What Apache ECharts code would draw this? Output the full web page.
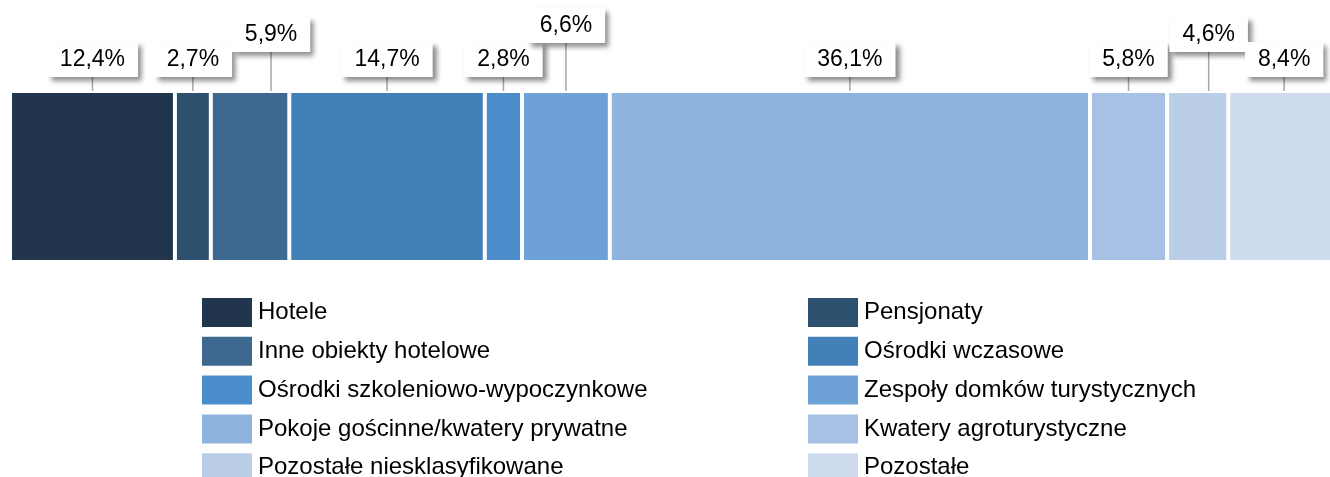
<!DOCTYPE html>
<html>
<head>
<meta charset="utf-8">
<script src="https://cdn.jsdelivr.net/npm/echarts@6/dist/echarts.min.js"></script>
<style>
  html, body { margin: 0; padding: 0; background: #fff; }
  #chart { width: 1330px; height: 477px; }
</style>
</head>
<body>
<div id="chart"></div>
<script>
const categories = [
  "Hotele",
  "Pensjonaty",
  "Inne obiekty hotelowe",
  "Ośrodki wczasowe",
  "Ośrodki szkoleniowo-wypoczynkowe",
  "Zespoły domków turystycznych",
  "Pokoje gościnne/kwatery prywatne",
  "Kwatery agroturystyczne",
  "Pozostałe niesklasyfikowane",
  "Pozostałe"
];
const shares = [12.4, 2.7, 5.9, 14.7, 2.8, 6.6, 36.1, 5.8, 4.6, 8.4];

const colors = [
  "#21364d", "#2e506f", "#3d688f", "#4280b7", "#4b8dca",
  "#6ea1d6", "#8eb3dd", "#a7c1e4", "#bbcee8", "#cfdbee"
];

// labels that sit higher / off-centre in the original
const labelShift = {
  2: { dx: 21, dy: -25 },
  5: { dx: 0, dy: -34 },
  8: { dx: 11, dy: -25 }
};

const font = "'Liberation Sans', Arial, sans-serif";

const chart = echarts.init(document.getElementById("chart"));

const series = categories.map((name, i) => ({
  name,
  type: "bar",
  stack: "total",
  barWidth: "100%",
  data: [shares[i]],
  itemStyle: { color: colors[i], borderColor: "#fff", borderWidth: 2 },
  label: {
    show: true,
    position: "top",
    distance: 14,
    formatter: (p) => p.value.toFixed(1).replace(".", ",") + "%",
    fontFamily: font,
    fontSize: 23,
    color: "#000",
    backgroundColor: "#fff",
    padding: [6, 13, 6, 13],
    shadowColor: "rgba(0,0,0,0.45)",
    shadowBlur: 5,
    shadowOffsetX: 4,
    shadowOffsetY: 4
  },
  labelLine: {
    show: true,
    lineStyle: { color: "#a6a6a6", width: 1.5 }
  },
  // a labelLayout is needed for the guide line to be drawn at all
  labelLayout: labelShift[i] || { dx: 0, dy: 0 },
  animation: false
}));

const legendBase = {
  orient: "vertical",
  top: 296,
  height: 200,
  padding: 0,
  itemWidth: 52,
  itemHeight: 31,
  itemGap: 5.8,
  icon: "rect",
  textStyle: { fontFamily: font, fontSize: 24, color: "#000" }
};

chart.setOption({
  animation: false,
  grid: { left: 10, top: 91, width: 1330, height: 171, outerBoundsMode: "none" },
  xAxis: { type: "value", min: 0, max: 100, show: false },
  yAxis: { type: "category", data: ["2023"], show: false },
  legend: [
    Object.assign({}, legendBase, { left: 200, data: categories.filter((_, i) => i % 2 === 0) }),
    Object.assign({}, legendBase, { left: 806, data: categories.filter((_, i) => i % 2 === 1) })
  ],
  series
});
</script>
</body>
</html>
